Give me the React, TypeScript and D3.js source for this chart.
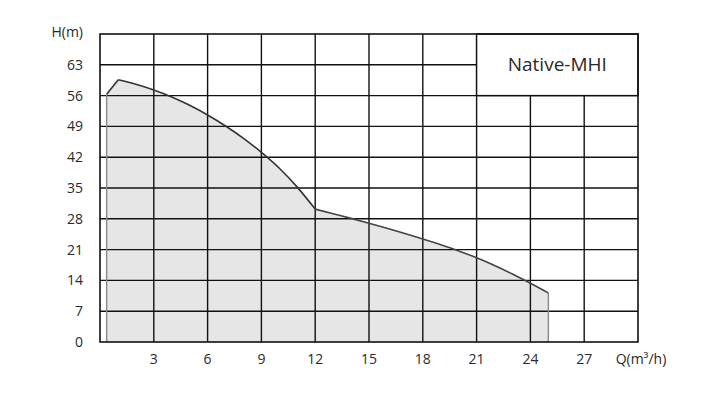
import React from "react";
import * as d3 from "d3";

const W = 717;
const H = 398;

const xTicks = [3, 6, 9, 12, 15, 18, 21, 24, 27];
const yTicks = [0, 7, 14, 21, 28, 35, 42, 49, 56, 63];
const xAxisTitle = "Q(m³/h)";
const yAxisTitle = "H(m)";
const legendLabel = "Native-MHI";

// curve: start edge, first rising segment
const startQ = [0.37, 0.37, 1.02];
const startH = [0, 56.3, 59.6];
// upper smooth branch
const branch1Q = [1.02, 2, 3, 4, 5, 6, 7, 8, 9, 10, 11, 12];
const branch1H = [59.6, 58.6, 57.3, 55.7, 53.8, 51.6, 49.1, 46.3, 43.1, 39.5, 35.2, 30.2];
// lower smooth branch
const branch2Q = [12, 13, 14, 15, 16, 17, 18, 19, 20, 21, 22, 23, 24, 25];
const branch2H = [30.2, 29.15, 28.1, 27.0, 25.85, 24.65, 23.4, 22.1, 20.7, 19.15, 17.4, 15.45, 13.35, 11.15];

export default function App() {
  const margin = { left: 100, right: W - 638, top: 34, bottom: H - 342 };
  const x = d3.scaleLinear().domain([0, 30]).range([margin.left, W - margin.right]);
  const y = d3.scaleLinear().domain([0, 70]).range([H - margin.bottom, margin.top]);

  const pts = (qs: number[], hs: number[]) => qs.map((q, i) => [q, hs[i]] as [number, number]);
  const lin = d3.line<[number, number]>().x(d => x(d[0])).y(d => y(d[1]));
  const smooth = d3.line<[number, number]>().x(d => x(d[0])).y(d => y(d[1])).curve(d3.curveMonotoneX);

  const startPath = lin(pts(startQ, startH)) || "";
  const b1 = smooth(pts(branch1Q, branch1H)) || "";
  const b2 = smooth(pts(branch2Q, branch2H)) || "";
  const endQ = branch2Q[branch2Q.length - 1];
  const endH = branch2H[branch2H.length - 1];

  const areaPath =
    startPath +
    "L" + b1.slice(1) +
    "L" + b2.slice(1) +
    `L${x(endQ)},${y(0)}Z`;

  const x0 = x(0), x1 = x(30), yb = y(0), yt = y(70);
  const font = "'Open Sans', sans-serif";
  const txt = "#2a2a2a";

  return (
    <svg width={W} height={H} style={{ position: "absolute", left: 0, top: 0, background: "#fff" }}>
      <rect x={0} y={0} width={W} height={H} fill="#fff" />
      <path d={areaPath} fill="#e6e6e6" stroke="none" />
      {/* grid */}
      {xTicks.map(t => (
        <line key={"gx" + t} x1={x(t)} x2={x(t)} y1={yt} y2={yb} stroke="#111" strokeWidth={1.4} />
      ))}
      {yTicks.filter(t => t > 0).map(t => (
        <line key={"gy" + t} x1={x0} x2={x1} y1={y(t)} y2={y(t)} stroke="#111" strokeWidth={1.4} />
      ))}
      {/* edges of the curve */}
      <line x1={x(startQ[0])} x2={x(startQ[1])} y1={y(startH[0])} y2={y(startH[1])} stroke="#888" strokeWidth={1.4} />
      <line x1={x(endQ)} x2={x(endQ)} y1={y(0)} y2={y(endH)} stroke="#888" strokeWidth={1.4} />
      <path d={lin(pts(startQ.slice(1), startH.slice(1))) || ""} fill="none" stroke="#333" strokeWidth={1.6} />
      <path d={b1} fill="none" stroke="#333" strokeWidth={1.6} />
      <path d={b2} fill="none" stroke="#444" strokeWidth={1.6} />
      {/* legend box */}
      <rect x={x(21)} y={yt} width={x1 - x(21)} height={y(56) - yt} fill="#fff" stroke="#111" strokeWidth={1.4} />
      <text x={(x(21) + x1) / 2} y={y(63) + 6} textAnchor="middle" fontFamily={font} fontSize={19} fill={txt}>
        {legendLabel}
      </text>
      {/* frame */}
      <rect x={x0} y={yt} width={x1 - x0} height={yb - yt} fill="none" stroke="#111" strokeWidth={1.6} />
      {/* y labels */}
      {yTicks.map(t => (
        <text key={"ly" + t} x={83} y={y(t) + 5} textAnchor="end" fontFamily={font} fontSize={14} fill={txt}>
          {t}
        </text>
      ))}
      <text x={83} y={37} textAnchor="end" fontFamily={font} fontSize={14} fill={txt}>{yAxisTitle}</text>
      {/* x labels */}
      {xTicks.map(t => (
        <text key={"lx" + t} x={x(t)} y={364} textAnchor="middle" fontFamily={font} fontSize={14} fill={txt}>
          {t}
        </text>
      ))}
      <text x={x(30) + 3} y={364} textAnchor="middle" fontFamily={font} fontSize={14} fill={txt}>{xAxisTitle}</text>
    </svg>
  );
}
